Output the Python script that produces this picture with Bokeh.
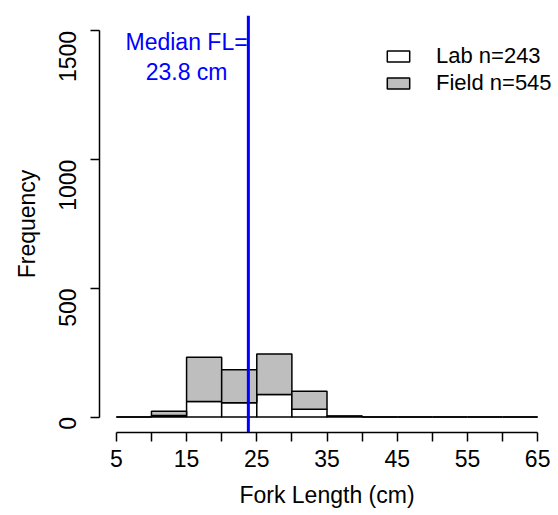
import math
from bokeh.plotting import figure
from bokeh.models import Range1d, FixedTicker, Span, Legend, LegendItem, ColumnDataSource
from bokeh.core.properties import value
from bokeh.embed import file_html
from bokeh.resources import INLINE

# ---- data ----
bin_left = [5, 10, 15, 20, 25, 30, 35, 40, 45, 50, 55, 60]
bin_right = [10, 15, 20, 25, 30, 35, 40, 45, 50, 55, 60, 65]
lab_counts = [0, 6, 60, 56, 88, 30, 3, 0, 0, 0, 0, 0]
field_counts = [0, 17, 172, 128, 157, 70, 1, 0, 0, 0, 0, 0]
median_fl = 23.8
median_label = "Median FL=\n23.8 cm"
median_label_pos = (15, 1400)
x_ticks = [5, 10, 15, 20, 25, 30, 35, 40, 45, 50, 55, 60, 65]
x_tick_labels = {5: "5", 10: "", 15: "15", 20: "", 25: "25", 30: "", 35: "35",
                 40: "", 45: "45", 50: "", 55: "55", 60: "", 65: "65"}
y_ticks = [0, 500, 1000, 1500]
lab_name = "Lab n=243"
field_name = "Field n=545"

FONT = "Liberation Sans"
FS = "23px"

field_top = [a + b for a, b in zip(lab_counts, field_counts)]

src = ColumnDataSource(dict(left=bin_left, right=bin_right, lab=lab_counts,
                            zero=[0] * len(bin_left), top=field_top))

p = figure(width=558, height=510, output_backend="svg", toolbar_location=None,
           x_range=Range1d(2.6, 67.4), y_range=Range1d(-60, 1560),
           min_border_left=99, min_border_right=4, min_border_top=15, min_border_bottom=77)
p.outline_line_color = None
p.grid.visible = False
p.background_fill_color = "white"

r_lab = p.quad(left="left", right="right", bottom="zero", top="lab", source=src,
               fill_color="white", line_color="black", line_width=1.5)
r_field = p.quad(left="left", right="right", bottom="lab", top="top", source=src,
                 fill_color="#BEBEBE", line_color="black", line_width=1.5)

p.add_layout(Span(location=median_fl, dimension="height", line_color="blue", line_width=3))

p.text(x=[median_label_pos[0]], y=[median_label_pos[1]], text=[median_label],
       text_color="blue", text_font=value(FONT), text_font_size=FS,
       text_align="center", text_baseline="middle", text_line_height=1.15)

for ax in (p.xaxis[0], p.yaxis[0]):
    ax.axis_line_width = 1.5
    ax.major_tick_line_width = 1.5
    ax.major_tick_in = 0
    ax.major_tick_out = 9
    ax.minor_tick_line_color = None
    ax.major_label_text_font = FONT
    ax.major_label_text_font_size = FS
    ax.axis_label_text_font = FONT
    ax.axis_label_text_font_size = FS
    ax.axis_label_text_font_style = "normal"
    ax.major_label_text_color = "black"
    ax.axis_label_text_color = "black"

p.xaxis.ticker = FixedTicker(ticks=x_ticks)
p.xaxis.major_label_overrides = x_tick_labels
p.xaxis.bounds = (x_ticks[0], x_ticks[-1])
p.xaxis.axis_label = "Fork Length (cm)"
p.xaxis.major_label_standoff = 8
p.xaxis.axis_label_standoff = 12

p.yaxis.ticker = FixedTicker(ticks=y_ticks)
p.yaxis.bounds = (y_ticks[0], y_ticks[-1])
p.yaxis.axis_label = "Frequency"
p.yaxis.major_label_orientation = math.pi / 2
p.yaxis.major_label_standoff = 23
p.yaxis.axis_label_standoff = 8

legend = Legend(items=[LegendItem(label=lab_name, renderers=[r_lab]),
                       LegendItem(label=field_name, renderers=[r_field])],
                location=(285, 336), orientation="vertical",
                glyph_width=28, glyph_height=14, label_standoff=24,
                spacing=1, padding=0, margin=0,
                border_line_color=None, background_fill_alpha=0,
                label_text_font=FONT, label_text_font_size="22px",
                label_text_color="black")
p.add_layout(legend)

open("out.html", "w").write(file_html(p, INLINE))
